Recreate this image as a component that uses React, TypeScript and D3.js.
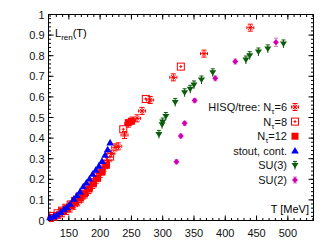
import * as d3 from "d3";

// [T in MeV, L_ren, error]
const hisqNt6 = [
  [122, 0.012, 0.004], [128, 0.018, 0.004], [134, 0.026, 0.005], [140, 0.035, 0.005],
  [146, 0.046, 0.006], [152, 0.058, 0.006], [158, 0.072, 0.007], [164, 0.088, 0.007],
  [170, 0.106, 0.008], [176, 0.126, 0.008], [182, 0.148, 0.009], [188, 0.172, 0.009],
  [194, 0.198, 0.01], [200, 0.226, 0.01], [206, 0.256, 0.01], [212, 0.29, 0.01],
  [218, 0.325, 0.01], [224, 0.355, 0.01], [229, 0.36, 0.01], [239, 0.415, 0.01],
  [245, 0.47, 0.01], [251, 0.485, 0.01], [259, 0.496, 0.01], [267, 0.532, 0.01],
  [280, 0.585, 0.01], [317, 0.695, 0.01], [366, 0.81, 0.01], [440, 0.936, 0.012],
];
const hisqNt8 = [
  [125, 0.022], [132, 0.035], [139, 0.048], [146, 0.062], [153, 0.078], [160, 0.095],
  [167, 0.115], [174, 0.137], [181, 0.16], [188, 0.186], [195, 0.213], [202, 0.243],
  [209, 0.275], [216, 0.31], [237, 0.443], [273, 0.59], [329, 0.747],
];
const hisqNt12 = [
  [140, 0.045], [147, 0.058], [154, 0.074], [161, 0.091], [168, 0.11], [175, 0.13],
  [182, 0.153], [189, 0.178], [196, 0.205], [203, 0.235], [210, 0.268], [245, 0.475],
  [250, 0.482],
];
const stoutCont = [
  [120, 0.015], [126, 0.02], [131, 0.028], [137, 0.04], [142, 0.054], [147, 0.065],
  [152, 0.08], [158, 0.105], [163, 0.122], [168, 0.14], [173, 0.165], [178, 0.183],
  [183, 0.203], [188, 0.226], [193, 0.245], [198, 0.265], [203, 0.288], [208, 0.318],
  [212, 0.345], [216, 0.378],
];
const su3 = [
  [294, 0.418], [299, 0.465], [300, 0.478], [305, 0.505], [320, 0.573], [335, 0.62],
  [344, 0.637], [350, 0.658], [362, 0.682], [380, 0.717], [433, 0.779], [439, 0.8],
  [453, 0.818], [468, 0.833], [493, 0.857],
];
const su2 = [
  [322, 0.285, 0.01], [329, 0.41, 0.01], [335, 0.472, 0.01], [351, 0.582, 0.01],
  [384, 0.69, 0.012], [416, 0.772, 0.012], [481, 0.865, 0.02],
];
const xTicks = [150, 200, 250, 300, 350, 400, 450, 500];
const yTicks = [0, 0.1, 0.2, 0.3, 0.4, 0.5, 0.6, 0.7, 0.8, 0.9, 1];

const RED = "#ff0000";
const BLUE = "#0000ff";
const GREEN = "#0a5c0a";
const MAGENTA = "#d000b0";
const FONT = "'Liberation Sans', Arial, sans-serif";

const left = 48.5, right = 313.5, top = 14.5, bottom = 220.5;
const x = d3.scaleLinear().domain([117.5, 541]).range([left, right]);
const y = d3.scaleLinear().domain([0, 1]).range([bottom, top]);

const Star = ({ cx, cy }) => (
  <g stroke={RED} strokeWidth={1} fill="none">
    <line x1={cx - 3} x2={cx + 3} y1={cy} y2={cy} />
    <line x1={cx} x2={cx} y1={cy - 3.5} y2={cy + 3.5} />
    <line x1={cx - 2.2} x2={cx + 2.2} y1={cy - 2.2} y2={cy + 2.2} />
    <line x1={cx - 2.2} x2={cx + 2.2} y1={cy + 2.2} y2={cy - 2.2} />
    <line x1={cx - 2.5} x2={cx + 2.5} y1={cy - 3.5} y2={cy - 3.5} />
    <line x1={cx - 2.5} x2={cx + 2.5} y1={cy + 3.5} y2={cy + 3.5} />
    <line x1={cx - 3.5} x2={cx - 3.5} y1={cy - 1.5} y2={cy + 1.5} />
    <line x1={cx + 3.5} x2={cx + 3.5} y1={cy - 1.5} y2={cy + 1.5} />
  </g>
);
const OpenSq = ({ cx, cy }) => (
  <g stroke={RED} strokeWidth={1} fill="none">
    <rect x={cx - 3.5} y={cy - 3.5} width={7} height={7} />
    <line x1={cx - 1.5} x2={cx + 1.5} y1={cy} y2={cy} />
    <line x1={cx} x2={cx} y1={cy - 1.5} y2={cy + 1.5} />
  </g>
);
const FillSq = ({ cx, cy }) => (
  <rect x={cx - 3.5} y={cy - 3.5} width={7} height={7} fill={RED} />
);
const Tri = ({ cx, cy }) => (
  <path d={`M${cx},${cy - 3.8}L${cx + 3.8},${cy + 2.8}L${cx - 3.8},${cy + 2.8}Z`} fill={BLUE} />
);
const InvTri = ({ cx, cy }) => (
  <g>
    <line x1={cx} x2={cx} y1={cy - 4} y2={cy + 4} stroke={GREEN} />
    <line x1={cx - 2} x2={cx + 2} y1={cy - 4} y2={cy - 4} stroke={GREEN} />
    <path d={`M${cx - 3.5},${cy - 2.5}L${cx + 3.5},${cy - 2.5}L${cx},${cy + 3}Z`} fill={GREEN} />
  </g>
);
const Dot = ({ cx, cy, ey = 3 }) => (
  <g>
    <line x1={cx} x2={cx} y1={cy - ey} y2={cy + ey} stroke="#e070d0" />
    <line x1={cx - 2} x2={cx + 2} y1={cy - ey} y2={cy - ey} stroke="#e070d0" />
    <line x1={cx - 2} x2={cx + 2} y1={cy + ey} y2={cy + ey} stroke="#e070d0" />
    <path d={`M${cx},${cy - 3}L${cx + 3},${cy}L${cx},${cy + 3}L${cx - 3},${cy}Z`} fill={MAGENTA} />
  </g>
);

const legend = [
  { label: ["HISQ/tree: N", "τ", "=6"], Mark: Star },
  { label: ["N", "τ", "=8"], Mark: OpenSq },
  { label: ["N", "τ", "=12"], Mark: FillSq },
  { label: ["stout, cont."], Mark: Tri },
  { label: ["SU(3)"], Mark: InvTri },
  { label: ["SU(2)"], Mark: Dot },
];

export default function App() {
  const xMinor = d3.range(120, 541, 10);
  const yMinor = d3.range(0, 1.001, 0.02);
  return (
    <svg width={333} height={245} style={{ position: "absolute", left: 0, top: 0 }} fontFamily={FONT}>
      <rect width={333} height={245} fill="white" />
      {/* ticks on all four sides */}
      <g stroke="black" strokeWidth={1}>
        {xMinor.map((t) => (
          <g key={"xm" + t}>
            <line x1={x(t)} x2={x(t)} y1={bottom} y2={bottom - 2.5} />
            <line x1={x(t)} x2={x(t)} y1={top} y2={top + 2.5} />
          </g>
        ))}
        {xTicks.map((t) => (
          <g key={"xt" + t}>
            <line x1={x(t)} x2={x(t)} y1={bottom} y2={bottom - 5} />
            <line x1={x(t)} x2={x(t)} y1={top} y2={top + 5} />
          </g>
        ))}
        {yMinor.map((t, i) => (
          <g key={"ym" + i}>
            <line x1={left} x2={left + 2.5} y1={y(t)} y2={y(t)} />
            <line x1={right} x2={right - 2.5} y1={y(t)} y2={y(t)} />
          </g>
        ))}
        {yTicks.map((t) => (
          <g key={"yt" + t}>
            <line x1={left} x2={left + 5} y1={y(t)} y2={y(t)} />
            <line x1={right} x2={right - 5} y1={y(t)} y2={y(t)} />
          </g>
        ))}
      </g>
      <rect x={left} y={top} width={right - left} height={bottom - top} fill="none" stroke="black" />
      <g fontSize={11} fill="#111">
        {yTicks.map((t) => (
          <text key={"yl" + t} x={left - 4} y={y(t) + 4} textAnchor="end">{t === 0 || t === 1 ? t : t.toFixed(1)}</text>
        ))}
        {xTicks.map((t) => (
          <text key={"xl" + t} x={x(t)} y={237} textAnchor="middle">{t}</text>
        ))}
      </g>
      <text x={55} y={37} fontSize={11}>
        L<tspan fontSize={8} dy={3}>ren</tspan><tspan dy={-3}>(T)</tspan>
      </text>
      <text x={309} y={213} fontSize={11} textAnchor="end">T [MeV]</text>

      {/* data */}
      <g>
        {hisqNt8.map(([t, l], i) => <OpenSq key={"n8" + i} cx={x(t)} cy={y(l)} />)}
        {hisqNt6.map(([t, l], i) => <Star key={"n6" + i} cx={x(t)} cy={y(l)} />)}
        {hisqNt12.map(([t, l], i) => <FillSq key={"n12" + i} cx={x(t)} cy={y(l)} />)}
        {stoutCont.map(([t, l], i) => <Tri key={"st" + i} cx={x(t)} cy={y(l)} />)}
        {su3.map(([t, l], i) => <InvTri key={"s3" + i} cx={x(t)} cy={y(l)} />)}
        {su2.map(([t, l, e], i) => <Dot key={"s2" + i} cx={x(t)} cy={y(l)} ey={y(0) - y(e)} />)}
      </g>

      {/* legend */}
      <g fontSize={11} fill="#111">
        {legend.map(({ label, Mark }, i) => {
          const ly = 107 + i * 14.6;
          return (
            <g key={"lg" + i}>
              <text x={287} y={ly + 4} textAnchor="end">
                {label[0]}
                {label.length > 1 && <tspan fontSize={8} dy={3}>{label[1]}</tspan>}
                {label.length > 1 && <tspan dy={-3}>{label[2]}</tspan>}
              </text>
              <Mark cx={295} cy={ly} />
            </g>
          );
        })}
      </g>
    </svg>
  );
}
